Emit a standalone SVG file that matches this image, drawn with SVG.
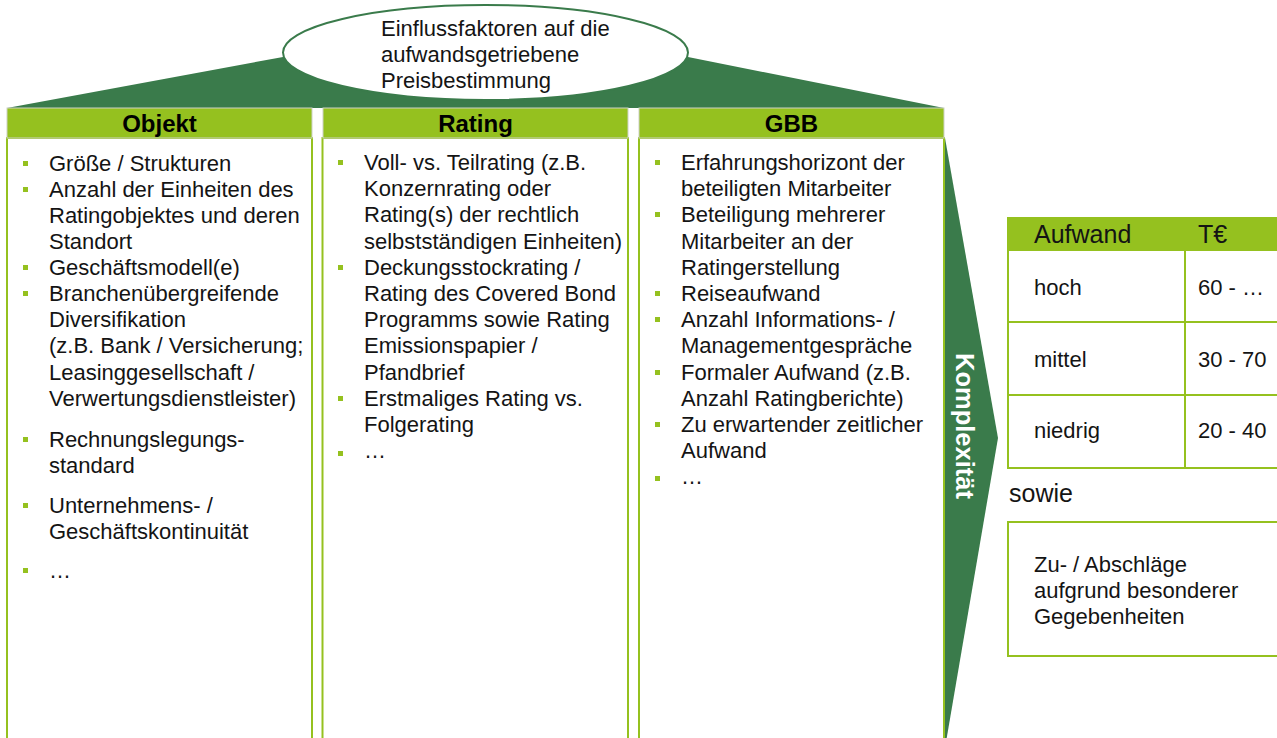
<svg xmlns="http://www.w3.org/2000/svg" width="1277" height="738" viewBox="0 0 1277 738">
<style>
text{font-family:"Liberation Sans",Arial,sans-serif;fill:#141414;}
.t{font-size:22px;}
.h{font-size:24px;font-weight:bold;text-anchor:middle;fill:#000;}
.hd{fill:#95C11F;stroke:#cdd2c6;stroke-width:1;}
.col{stroke:#95C11F;stroke-width:2;fill:#fff;}
.b{fill:#95C11F;}
.dg{fill:#3A7B4B;}
.tb{fill:#fff;stroke:#95C11F;stroke-width:2;}
.th{fill:#95C11F;}
.ln{stroke:#95C11F;stroke-width:2;}
.l{font-size:25px;}
</style>
<rect width="1277" height="738" fill="#fff"/>

<g id="roof">
<polygon class="dg" points="7,108 283,57 688,57 944,108"/>
</g>

<g id="title">
<ellipse cx="485.5" cy="52.5" rx="202.5" ry="47.5" fill="#fff" stroke="#3A7B4B" stroke-width="2"/>
<text class="t" x="381" y="36">Einflussfaktoren auf die</text>
<text class="t" x="381" y="62">aufwandsgetriebene</text>
<text class="t" x="381" y="88">Preisbestimmung</text>
</g>

<g id="arrow-komplexitaet">
<polygon class="dg" points="945,138 998,438 945,748"/>
<text transform="translate(956,426) rotate(90)" text-anchor="middle" style="font-size:25.5px;font-weight:bold;fill:#fff">Komplexität</text>
</g>

<g id="col-objekt">
<rect class="col" x="7" y="138" width="305" height="620"/>
<rect class="hd" x="7" y="108" width="305" height="30"/>
<text class="h" x="159.5" y="132">Objekt</text>
<rect class="b" x="23" y="161" width="5" height="5"/>
<rect class="b" x="23" y="187" width="5" height="5"/>
<rect class="b" x="23" y="265" width="5" height="5"/>
<rect class="b" x="23" y="291" width="5" height="5"/>
<rect class="b" x="23" y="437" width="5" height="5"/>
<rect class="b" x="23" y="503" width="5" height="5"/>
<rect class="b" x="23" y="568" width="5" height="5"/>
<text class="t" x="49" y="171">Größe / Strukturen</text>
<text class="t" x="49" y="197">Anzahl der Einheiten des</text>
<text class="t" x="49" y="223">Ratingobjektes und deren</text>
<text class="t" x="49" y="249">Standort</text>
<text class="t" x="49" y="275">Geschäftsmodell(e)</text>
<text class="t" x="49" y="301">Branchenübergreifende</text>
<text class="t" x="49" y="327">Diversifikation</text>
<text class="t" x="49" y="353">(z.B. Bank / Versicherung;</text>
<text class="t" x="49" y="380">Leasinggesellschaft /</text>
<text class="t" x="49" y="406">Verwertungsdienstleister)</text>
<text class="t" x="49" y="447">Rechnungslegungs-</text>
<text class="t" x="49" y="473">standard</text>
<text class="t" x="49" y="513">Unternehmens- /</text>
<text class="t" x="49" y="539">Geschäftskontinuität</text>
<text class="t" x="49" y="578">…</text>
</g>

<g id="col-rating">
<rect class="col" x="322.5" y="138" width="305.5" height="620"/>
<rect class="hd" x="323" y="108" width="305" height="30"/>
<text class="h" x="475.5" y="132">Rating</text>
<rect class="b" x="338" y="160" width="5" height="5"/>
<rect class="b" x="338" y="265" width="5" height="5"/>
<rect class="b" x="338" y="396" width="5" height="5"/>
<rect class="b" x="338" y="451" width="5" height="5"/>
<text class="t" x="364" y="170">Voll- vs. Teilrating (z.B.</text>
<text class="t" x="364" y="196">Konzernrating oder</text>
<text class="t" x="364" y="222">Rating(s) der rechtlich</text>
<text class="t" x="364" y="249">selbstständigen Einheiten)</text>
<text class="t" x="364" y="275">Deckungsstockrating /</text>
<text class="t" x="364" y="301">Rating des Covered Bond</text>
<text class="t" x="364" y="327">Programms sowie Rating</text>
<text class="t" x="364" y="353">Emissionspapier /</text>
<text class="t" x="364" y="380">Pfandbrief</text>
<text class="t" x="364" y="406">Erstmaliges Rating vs.</text>
<text class="t" x="364" y="432">Folgerating</text>
<text class="t" x="364" y="458">…</text>
</g>

<g id="col-gbb">
<rect class="col" x="639" y="138" width="305" height="620"/>
<rect class="hd" x="639" y="108" width="305" height="30"/>
<text class="h" x="791.5" y="132">GBB</text>
<rect class="b" x="655" y="160" width="5" height="5"/>
<rect class="b" x="655" y="212" width="5" height="5"/>
<rect class="b" x="655" y="291" width="5" height="5"/>
<rect class="b" x="655" y="317" width="5" height="5"/>
<rect class="b" x="655" y="370" width="5" height="5"/>
<rect class="b" x="655" y="422" width="5" height="5"/>
<rect class="b" x="655" y="476" width="5" height="5"/>
<text class="t" x="681" y="170">Erfahrungshorizont der</text>
<text class="t" x="681" y="196">beteiligten Mitarbeiter</text>
<text class="t" x="681" y="222">Beteiligung mehrerer</text>
<text class="t" x="681" y="249">Mitarbeiter an der</text>
<text class="t" x="681" y="275">Ratingerstellung</text>
<text class="t" x="681" y="301">Reiseaufwand</text>
<text class="t" x="681" y="327">Anzahl Informations- /</text>
<text class="t" x="681" y="353">Managementgespräche</text>
<text class="t" x="681" y="380">Formaler Aufwand (z.B.</text>
<text class="t" x="681" y="406">Anzahl Ratingberichte)</text>
<text class="t" x="681" y="432">Zu erwartender zeitlicher</text>
<text class="t" x="681" y="458">Aufwand</text>
<text class="t" x="681" y="484">…</text>
</g>

<g id="table-aufwand">
<rect class="tb" x="1008" y="218" width="290" height="250"/>
<rect class="th" x="1007" y="217" width="291" height="34"/>
<line class="ln" x1="1008" y1="322" x2="1298" y2="322"/>
<line class="ln" x1="1008" y1="395" x2="1298" y2="395"/>
<line class="ln" x1="1185" y1="251" x2="1185" y2="468"/>
<text class="l" x="1034" y="243">Aufwand</text>
<text class="l" x="1198" y="243">T€</text>
<text class="t" x="1034" y="295">hoch</text>
<text class="t" x="1198" y="295">60 - …</text>
<text class="t" x="1034" y="367">mittel</text>
<text class="t" x="1198" y="367">30 - 70</text>
<text class="t" x="1034" y="438">niedrig</text>
<text class="t" x="1198" y="438">20 - 40</text>
</g>

<g id="sowie">
<text class="l" x="1009" y="502">sowie</text>
</g>

<g id="box-zuabschlaege">
<rect class="tb" x="1008" y="522" width="290" height="134"/>
<text class="t" x="1034" y="572">Zu- / Abschläge</text>
<text class="t" x="1034" y="598">aufgrund besonderer</text>
<text class="t" x="1034" y="624">Gegebenheiten</text>
</g>

<g id="connectors"/>
</svg>
